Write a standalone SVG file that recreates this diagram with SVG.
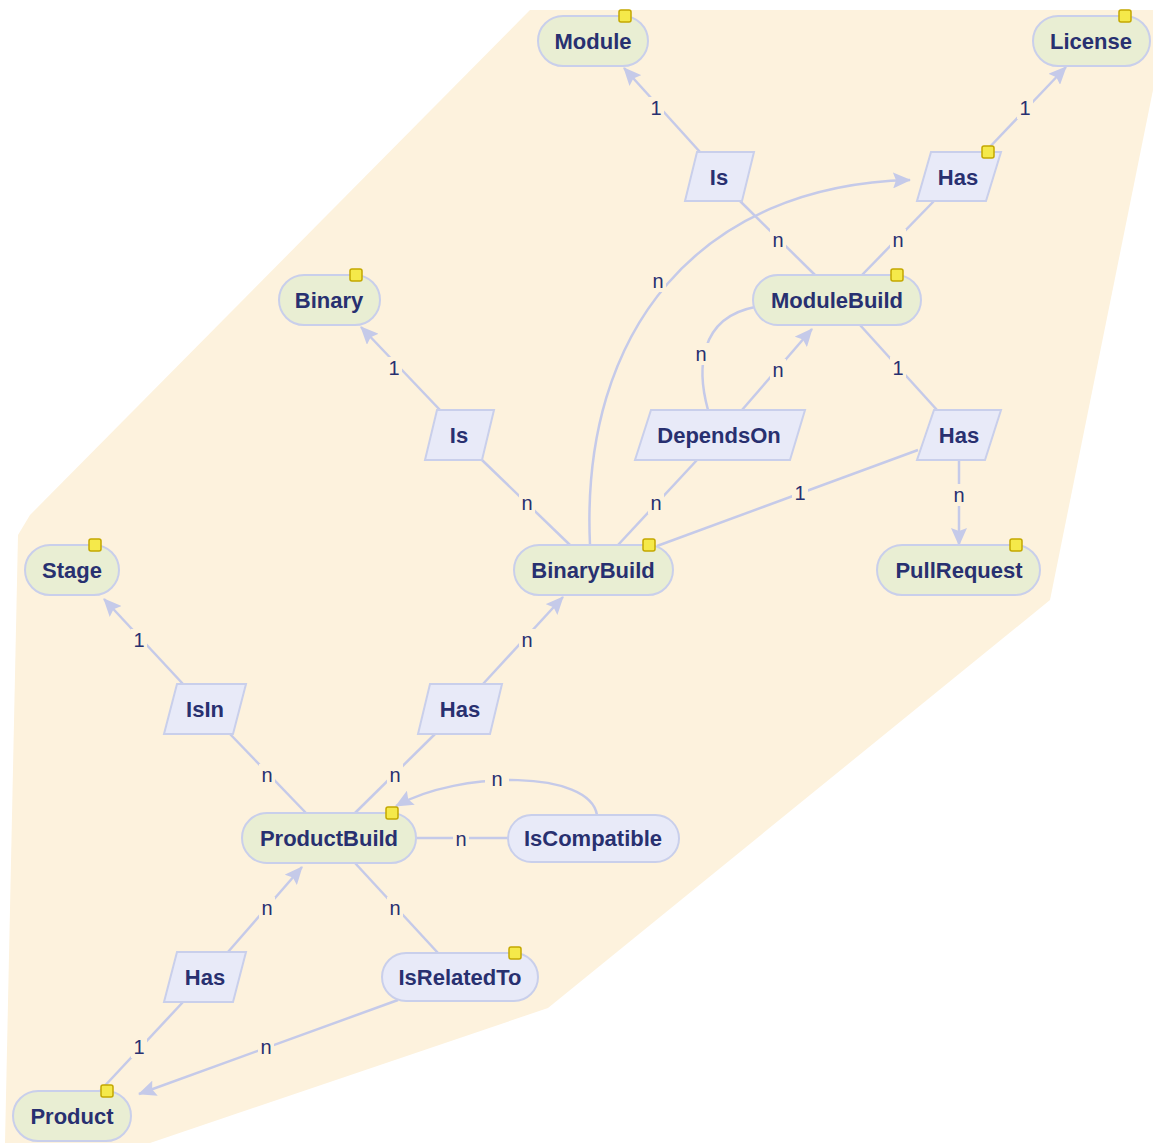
<svg xmlns="http://www.w3.org/2000/svg" width="1153" height="1143" viewBox="0 0 1153 1143">
<defs>
<style>
.ent{fill:#e9eed3;stroke:#c9cfeb;stroke-width:2}
.rel{fill:#e8eaf8;stroke:#c9cfeb;stroke-width:2}
.t{font-family:"Liberation Sans",Arial,sans-serif;font-weight:bold;font-size:22px;fill:#283070;text-anchor:middle;dominant-baseline:central}
.l{font-family:"Liberation Sans",Arial,sans-serif;font-size:20px;fill:#283070;text-anchor:middle;dominant-baseline:central}
.lb{fill:#fdf2dd}
.c{fill:none;stroke:#c5cae9;stroke-width:2.5}
.a{marker-end:url(#arr)}
.k{fill:#f5e94a;stroke:#c4a800;stroke-width:1.5}
</style>
<marker id="arr" viewBox="0 0 18 16" refX="17" refY="8" markerWidth="18" markerHeight="16" markerUnits="userSpaceOnUse" orient="auto">
<path d="M0,0 L18,8 L0,16 L3,8 Z" fill="#c5cae9"/>
</marker>
</defs>
<polygon points="530,10 1153,10 1153,90 1050,600 548,1008 150,1143 5,1143 18,535 30,515" fill="#fdf2dd"/>
<g id="connectors">
<line class="c a" x1="700" y1="152" x2="624" y2="68"/>
<line class="c" x1="815" y1="275" x2="740" y2="201"/>
<line class="c" x1="862" y1="275" x2="934" y2="201"/>
<line class="c a" x1="985" y1="152" x2="1066" y2="67"/>
<path class="c a" d="M590,545 C580,330 700,185 910,180"/>
<line class="c a" x1="440" y1="410" x2="361" y2="327"/>
<line class="c" x1="570" y1="545" x2="482" y2="460"/>
<line class="c" x1="618" y1="545" x2="697" y2="460"/>
<line class="c a" x1="742" y1="410" x2="812" y2="329"/>
<path class="c" d="M708,410 C697,370 698,318 755,307"/>
<line class="c" x1="860" y1="325" x2="937" y2="410"/>
<line class="c" x1="657" y1="546" x2="918" y2="450"/>
<line class="c a" x1="959" y1="460" x2="959" y2="545"/>
<line class="c a" x1="183" y1="684" x2="104" y2="599"/>
<line class="c" x1="306" y1="813" x2="230" y2="734"/>
<line class="c" x1="355" y1="813" x2="435" y2="734"/>
<line class="c a" x1="483" y1="684" x2="563" y2="597"/>
<line class="c" x1="416" y1="838" x2="508" y2="838"/>
<path class="c a" d="M597,815 C590,770 460,770 396,806"/>
<line class="c" x1="355" y1="863" x2="438" y2="953"/>
<line class="c a" x1="228" y1="952" x2="302" y2="867"/>
<line class="c" x1="100" y1="1091" x2="183" y2="1002"/>
<line class="c a" x1="398" y1="1000" x2="139" y2="1094"/>
<g id="labels">
<rect class="lb" x="648" y="97" width="16" height="22"/><text class="l" x="656" y="108">1</text>
<rect class="lb" x="770" y="229" width="16" height="22"/><text class="l" x="778" y="240">n</text>
<rect class="lb" x="890" y="229" width="16" height="22"/><text class="l" x="898" y="240">n</text>
<rect class="lb" x="1017" y="97" width="16" height="22"/><text class="l" x="1025" y="108">1</text>
<rect class="lb" x="650" y="270" width="16" height="22"/><text class="l" x="658" y="281">n</text>
<rect class="lb" x="386" y="357" width="16" height="22"/><text class="l" x="394" y="368">1</text>
<rect class="lb" x="519" y="492" width="16" height="22"/><text class="l" x="527" y="503">n</text>
<rect class="lb" x="648" y="492" width="16" height="22"/><text class="l" x="656" y="503">n</text>
<rect class="lb" x="770" y="359" width="16" height="22"/><text class="l" x="778" y="370">n</text>
<rect class="lb" x="693" y="343" width="16" height="22"/><text class="l" x="701" y="354">n</text>
<rect class="lb" x="890" y="357" width="16" height="22"/><text class="l" x="898" y="368">1</text>
<rect class="lb" x="792" y="482" width="16" height="22"/><text class="l" x="800" y="493">1</text>
<rect class="lb" x="951" y="484" width="16" height="22"/><text class="l" x="959" y="495">n</text>
<rect class="lb" x="131" y="629" width="16" height="22"/><text class="l" x="139" y="640">1</text>
<rect class="lb" x="259" y="764" width="16" height="22"/><text class="l" x="267" y="775">n</text>
<rect class="lb" x="387" y="764" width="16" height="22"/><text class="l" x="395" y="775">n</text>
<rect class="lb" x="519" y="629" width="16" height="22"/><text class="l" x="527" y="640">n</text>
<rect class="lb" x="453" y="828" width="16" height="22"/><text class="l" x="461" y="839">n</text>
<rect class="lb" x="485" y="768" width="24" height="22"/><text class="l" x="497" y="779">n</text>
<rect class="lb" x="387" y="897" width="16" height="22"/><text class="l" x="395" y="908">n</text>
<rect class="lb" x="259" y="897" width="16" height="22"/><text class="l" x="267" y="908">n</text>
<rect class="lb" x="131" y="1036" width="16" height="22"/><text class="l" x="139" y="1047">1</text>
<rect class="lb" x="258" y="1036" width="16" height="22"/><text class="l" x="266" y="1047">n</text>
</g>
</g>
<g id="Module"><rect class="ent" x="538" y="16" width="110" height="50" rx="25"/><text class="t" x="593" y="41">Module</text><rect class="k" x="619" y="10" width="12" height="12" rx="2"/></g>
<g id="License"><rect class="ent" x="1033" y="16" width="117" height="50" rx="25"/><text class="t" x="1091" y="41">License</text><rect class="k" x="1119" y="10" width="12" height="12" rx="2"/></g>
<g id="IsModule"><polygon class="rel" points="697,152 754,152 742,201 685,201"/><text class="t" x="719" y="177">Is</text></g>
<g id="HasLicense"><polygon class="rel" points="931,152 1001,152 986,201 917,201"/><text class="t" x="958" y="177">Has</text><rect class="k" x="982" y="146" width="12" height="12" rx="2"/></g>
<g id="Binary"><rect class="ent" x="279" y="275" width="101" height="50" rx="25"/><text class="t" x="329" y="300">Binary</text><rect class="k" x="350" y="269" width="12" height="12" rx="2"/></g>
<g id="ModuleBuild"><rect class="ent" x="753" y="275" width="168" height="50" rx="25"/><text class="t" x="837" y="300">ModuleBuild</text><rect class="k" x="891" y="269" width="12" height="12" rx="2"/></g>
<g id="IsBinary"><polygon class="rel" points="437,410 494,410 482,460 425,460"/><text class="t" x="459" y="435">Is</text></g>
<g id="DependsOn"><polygon class="rel" points="651,410 805,410 790,460 635,460"/><text class="t" x="719" y="435">DependsOn</text></g>
<g id="HasPullRequest"><polygon class="rel" points="934,410 1001,410 985,460 917,460"/><text class="t" x="959" y="435">Has</text></g>
<g id="Stage"><rect class="ent" x="25" y="545" width="94" height="50" rx="25"/><text class="t" x="72" y="570">Stage</text><rect class="k" x="89" y="539" width="12" height="12" rx="2"/></g>
<g id="BinaryBuild"><rect class="ent" x="514" y="545" width="159" height="50" rx="25"/><text class="t" x="593" y="570">BinaryBuild</text><rect class="k" x="643" y="539" width="12" height="12" rx="2"/></g>
<g id="PullRequest"><rect class="ent" x="877" y="545" width="163" height="50" rx="25"/><text class="t" x="959" y="570">PullRequest</text><rect class="k" x="1010" y="539" width="12" height="12" rx="2"/></g>
<g id="IsIn"><polygon class="rel" points="177,684 246,684 233,734 164,734"/><text class="t" x="205" y="709">IsIn</text></g>
<g id="HasBinaryBuild"><polygon class="rel" points="430,684 502,684 490,734 418,734"/><text class="t" x="460" y="709">Has</text></g>
<g id="ProductBuild"><rect class="ent" x="242" y="813" width="174" height="50" rx="25"/><text class="t" x="329" y="838">ProductBuild</text><rect class="k" x="386" y="807" width="12" height="12" rx="2"/></g>
<g id="IsCompatible"><rect class="rel" x="508" y="815" width="171" height="47" rx="23.5"/><text class="t" x="593" y="838">IsCompatible</text></g>
<g id="HasProductBuild"><polygon class="rel" points="177,952 246,952 233,1002 164,1002"/><text class="t" x="205" y="977">Has</text></g>
<g id="IsRelatedTo"><rect class="rel" x="382" y="953" width="156" height="48" rx="24"/><text class="t" x="460" y="977">IsRelatedTo</text><rect class="k" x="509" y="947" width="12" height="12" rx="2"/></g>
<g id="Product"><rect class="ent" x="13" y="1091" width="118" height="50" rx="25"/><text class="t" x="72" y="1116">Product</text><rect class="k" x="101" y="1085" width="12" height="12" rx="2"/></g>
</svg>
